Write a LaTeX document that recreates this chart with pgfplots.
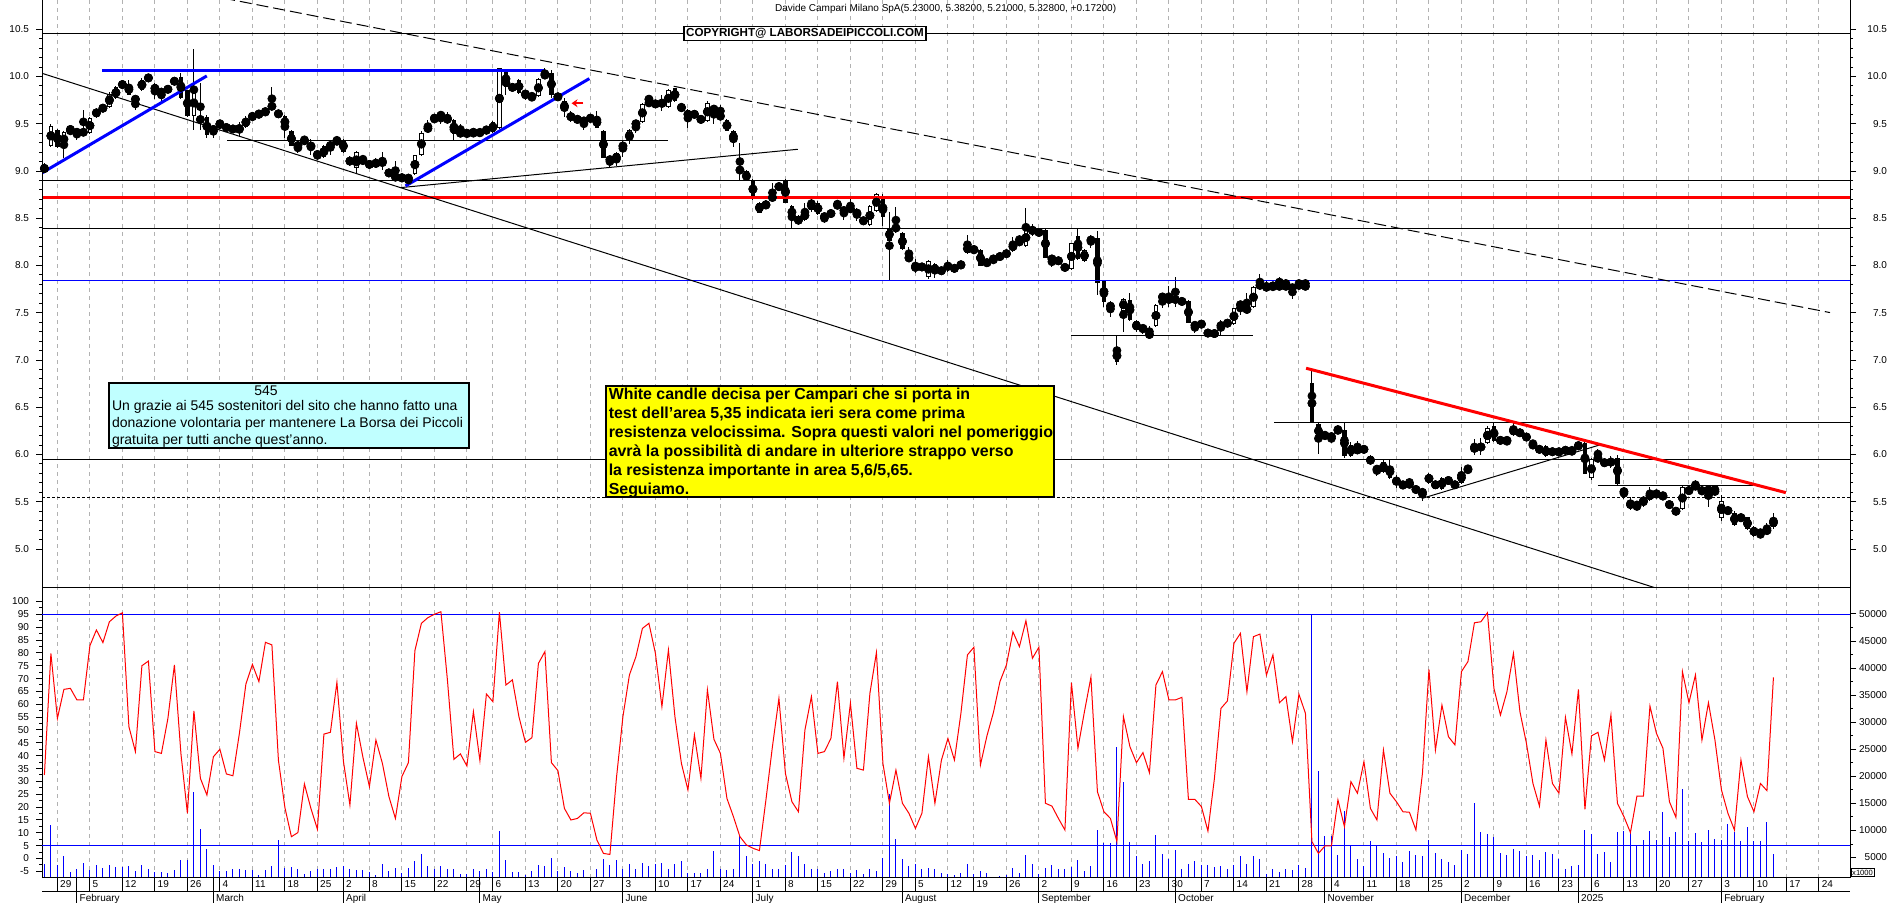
\documentclass[border=0pt]{standalone}
\usepackage{pgfplots}
\pgfplotsset{compat=1.18}
\usepackage{pgfplotstable}
\usepackage{fontspec}
\setmainfont{Liberation Sans}
\usetikzlibrary{arrows.meta}

\definecolor{gridgray}{RGB}{178,178,178}
\definecolor{notecyan}{RGB}{192,255,255}
\definecolor{noteyellow}{RGB}{255,255,0}

% daily candles, x = trading day (0 = 29 Jan 2024)
\pgfplotstableread{
d O H L C
-2 9.02 9.08 8.98 9.03
-1 9.265 9.50 9.25 9.477
0 9.434 9.44 9.24 9.258
1 9.258 9.42 9.135 9.417
2 9.44 9.47 9.38 9.44
3 9.41 9.45 9.33 9.41
4 9.42 9.65 9.39 9.40
5 9.40 9.57 9.39 9.56
6 9.57 9.67 9.56 9.66
7 9.66 9.70 9.63 9.67
8 9.68 9.84 9.67 9.815
9 9.77 9.90 9.76 9.886
10 9.88 9.96 9.87 9.95
11 9.92 9.96 9.80 9.805
12 9.76 9.77 9.65 9.76
13 9.86 9.98 9.85 9.96
14 9.98 10.02 9.95 9.99
15 9.92 9.93 9.76 9.83
16 9.83 9.88 9.73 9.84
17 9.85 9.89 9.84 9.88
18 9.92 9.99 9.91 9.98
19 9.999 10.04 9.76 9.77
20 9.86 9.86 9.57 9.58
21 9.58 10.29 9.43 9.86
22 9.57 9.93 9.43 9.52
23 9.57 9.59 9.35 9.38
24 9.40 9.49 9.35 9.48
25 9.50 9.52 9.46 9.50
26 9.49 9.50 9.42 9.43
27 9.46 9.48 9.41 9.43
28 9.42 9.52 9.36 9.48
29 9.47 9.58 9.46 9.56
30 9.56 9.61 9.55 9.59
31 9.62 9.64 9.57 9.58
32 9.59 9.68 9.58 9.66
33 9.72 9.89 9.64 9.65
34 9.64 9.65 9.56 9.57
35 9.58 9.59 9.35 9.46
36 9.42 9.43 9.26 9.265
37 9.27 9.30 9.19 9.27
38 9.32 9.37 9.29 9.32
39 9.31 9.34 9.17 9.22
40 9.20 9.21 9.12 9.15
41 9.15 9.27 9.14 9.26
42 9.27 9.33 9.17 9.27
43 9.30 9.36 9.29 9.33
44 9.33 9.34 9.19 9.20
45 9.15 9.16 9.05 9.06
46 9.03 9.21 8.98 9.205
47 9.11 9.17 9.08 9.11
48 9.09 9.10 9.04 9.05
49 9.05 9.14 9.03 9.11
50 9.12 9.20 9.01 9.06
51 8.99 9.00 8.96 8.97
52 8.96 9.11 8.90 8.91
53 8.91 8.96 8.89 8.95
54 8.89 8.97 8.84 8.96
55 8.97 9.17 8.96 9.17
56 9.17 9.42 9.16 9.40
57 9.41 9.54 9.40 9.49
58 9.56 9.58 9.52 9.56
59 9.59 9.62 9.50 9.59
60 9.59 9.62 9.50 9.505
61 9.54 9.55 9.33 9.39
62 9.40 9.50 9.38 9.40
63 9.40 9.42 9.37 9.40
64 9.39 9.44 9.36 9.43
65 9.43 9.45 9.37 9.38
66 9.42 9.46 9.40 9.45
67 9.52 9.53 9.40 9.41
68 9.45 10.09 9.44 10.09
69 10.06 10.07 9.80 9.89
70 9.86 9.93 9.84 9.91
71 9.96 9.97 9.82 9.83
72 9.85 9.86 9.75 9.78
73 9.79 9.81 9.75 9.79
74 9.79 9.98 9.78 9.97
75 10.00 10.09 9.97 10.03
76 10.04 10.07 9.77 9.80
77 9.80 9.81 9.76 9.77
78 9.745 9.77 9.57 9.63
79 9.61 9.63 9.52 9.54
80 9.54 9.57 9.52 9.555
81 9.50 9.57 9.43 9.56
82 9.56 9.57 9.54 9.56
83 9.58 9.63 9.45 9.45
84 9.42 9.43 9.14 9.14
85 9.15 9.16 9.04 9.09
86 9.10 9.20 9.05 9.19
87 9.25 9.33 9.15 9.28
88 9.32 9.44 9.29 9.43
89 9.50 9.53 9.40 9.50
90 9.52 9.72 9.51 9.71
91 9.76 9.76 9.68 9.76
92 9.68 9.75 9.67 9.74
93 9.75 9.80 9.64 9.68
94 9.68 9.87 9.67 9.86
95 9.875 9.88 9.73 9.745
96 9.71 9.72 9.63 9.63
97 9.65 9.66 9.46 9.55
98 9.56 9.65 9.55 9.64
99 9.575 9.58 9.51 9.52
100 9.53 9.74 9.52 9.72
101 9.69 9.70 9.50 9.62
102 9.58 9.70 9.57 9.58
103 9.54 9.55 9.42 9.42
104 9.42 9.43 9.25 9.31
105 9.04 9.30 8.90 8.98
106 9.00 9.01 8.89 8.89
107 8.91 8.92 8.69 8.71
108 8.66 8.67 8.56 8.56
109 8.62 8.69 8.60 8.66
110 8.69 8.87 8.67 8.75
111 8.81 8.87 8.80 8.86
112 8.89 8.92 8.66 8.66
113 8.63 8.64 8.39 8.50
114 8.52 8.53 8.43 8.44
115 8.48 8.66 8.47 8.58
116 8.59 8.74 8.57 8.675
117 8.665 8.68 8.53 8.54
118 8.49 8.55 8.45 8.545
119 8.53 8.58 8.52 8.57
120 8.615 8.69 8.61 8.66
121 8.615 8.63 8.48 8.55
122 8.57 8.70 8.56 8.63
123 8.60 8.61 8.47 8.51
124 8.445 8.51 8.44 8.50
125 8.43 8.64 8.42 8.63
126 8.58 8.77 8.57 8.76
127 8.71 8.76 8.42 8.51
128 8.40 8.57 7.85 8.26
129 8.445 8.62 8.34 8.35
130 8.34 8.35 8.16 8.17
131 8.06 8.20 8.05 8.10
132 7.98 8.07 7.92 7.98
133 8.00 8.01 7.96 7.97
134 7.88 8.06 7.86 8.05
135 8.02 8.03 7.87 7.91
136 7.93 7.97 7.92 7.96
137 7.99 8.06 7.93 7.99
138 7.99 8.00 7.94 7.95
139 7.99 8.04 7.98 8.02
140 8.225 8.32 8.12 8.13
141 8.17 8.20 8.13 8.17
142 8.16 8.17 7.99 8.00
143 8.00 8.07 7.99 8.06
144 8.07 8.09 8.03 8.07
145 8.07 8.13 8.06 8.12
146 8.10 8.16 8.09 8.15
147 8.15 8.30 8.14 8.25
148 8.25 8.31 8.24 8.25
149 8.21 8.61 8.20 8.38
150 8.38 8.44 8.31 8.36
151 8.32 8.39 8.31 8.38
152 8.38 8.39 8.08 8.08
153 8.06 8.10 7.98 8.08
154 8.08 8.09 8.01 8.02
155 8.01 8.02 7.94 7.95
156 7.96 8.24 7.95 8.235
157 8.31 8.40 8.06 8.07
158 8.05 8.17 8.04 8.16
159 8.27 8.32 8.19 8.27
160 8.29 8.36 7.69 7.81
161 7.84 7.85 7.56 7.61
162 7.59 7.62 7.46 7.55
163 7.11 7.25 6.95 6.98
164 7.52 7.66 7.30 7.65
165 7.64 7.71 7.41 7.42
166 7.41 7.42 7.30 7.32
167 7.37 7.38 7.28 7.30
168 7.27 7.36 7.24 7.27
169 7.36 7.59 7.35 7.58
170 7.655 7.69 7.55 7.68
171 7.67 7.78 7.56 7.61
172 7.67 7.88 7.56 7.61
173 7.62 7.64 7.60 7.62
174 7.62 7.63 7.39 7.39
175 7.345 7.40 7.29 7.39
176 7.40 7.42 7.34 7.36
177 7.32 7.33 7.24 7.25
178 7.25 7.32 7.24 7.31
179 7.33 7.42 7.27 7.40
180 7.36 7.43 7.35 7.42
181 7.38 7.55 7.37 7.55
182 7.56 7.62 7.48 7.61
183 7.51 7.71 7.50 7.56
184 7.56 7.78 7.55 7.77
185 7.79 7.91 7.74 7.79
186 7.79 7.84 7.72 7.75
187 7.76 7.82 7.73 7.81
188 7.78 7.88 7.77 7.78
189 7.78 7.86 7.76 7.78
190 7.78 7.79 7.65 7.75
191 7.79 7.85 7.77 7.79
192 7.78 7.84 7.78 7.78
193 6.754 6.91 6.33 6.331
194 6.32 6.33 6.01 6.18
195 6.20 6.24 6.17 6.20
196 6.18 6.22 6.12 6.20
197 6.225 6.31 6.22 6.288
198 6.26 6.34 5.96 5.98
199 5.98 6.13 5.97 6.10
200 6.066 6.14 6.02 6.03
201 6.04 6.09 6.02 6.07
202 5.98 5.99 5.89 5.90
203 5.88 5.89 5.77 5.81
204 5.81 5.94 5.80 5.92
205 5.88 5.94 5.74 5.756
206 5.74 5.78 5.65 5.70
207 5.68 5.71 5.64 5.68
208 5.685 5.75 5.66 5.685
209 5.66 5.67 5.59 5.60
210 5.60 5.65 5.51 5.60
211 5.70 5.80 5.69 5.795
212 5.72 5.73 5.63 5.64
213 5.63 5.76 5.62 5.756
214 5.75 5.76 5.69 5.70
215 5.68 5.70 5.66 5.68
216 5.70 5.87 5.69 5.81
217 5.84 5.87 5.83 5.84
218 6.03 6.16 6.00 6.10
219 6.05 6.17 5.99 6.11
220 6.12 6.30 6.11 6.28
221 6.30 6.33 6.13 6.14
222 6.17 6.18 6.12 6.13
223 6.13 6.18 6.10 6.17
224 6.21 6.33 6.20 6.29
225 6.25 6.26 6.20 6.21
226 6.20 6.21 6.16 6.17
227 6.10 6.14 6.09 6.10
228 6.08 6.09 6.02 6.03
229 5.98 6.10 5.97 6.09
230 6.03 6.06 6.00 6.03
231 6.03 6.06 5.99 6.03
232 6.03 6.07 6.02 6.06
233 6.02 6.08 6.01 6.05
234 6.08 6.12 6.06 6.11
235 6.12 6.14 5.79 5.79
236 5.75 5.96 5.73 5.95
237 5.96 6.06 5.95 5.96
238 5.925 5.95 5.88 5.90
239 5.88 5.98 5.86 5.96
240 5.96 5.99 5.68 5.69
241 5.645 5.65 5.53 5.57
242 5.51 5.55 5.41 5.43
243 5.45 5.48 5.42 5.48
244 5.54 5.56 5.44 5.48
245 5.52 5.66 5.51 5.61
246 5.60 5.61 5.55 5.57
247 5.56 5.60 5.53 5.56
248 5.50 5.51 5.43 5.44
249 5.43 5.44 5.36 5.37
250 5.42 5.67 5.41 5.66
251 5.625 5.65 5.59 5.61
252 5.64 5.73 5.63 5.69
253 5.64 5.66 5.58 5.59
254 5.57 5.68 5.45 5.68
255 5.63 5.68 5.58 5.59
256 5.325 5.57 5.30 5.51
257 5.43 5.44 5.37 5.385
258 5.38 5.40 5.24 5.255
259 5.315 5.36 5.30 5.35
260 5.336 5.34 5.20 5.21
261 5.237 5.24 5.13 5.138
262 5.16 5.19 5.12 5.184
263 5.23 5.28 5.15 5.16
264 5.23 5.382 5.21 5.328
}\candles

% oscillator (left scale) and volume (right scale, x1000)
\pgfplotstableread{
d osc vol
-2 32.5 3890
-1 79.8 10980
0 54.5 3700
1 65.8 5250
2 66.2 2350
3 61.7 2970
4 61.7 4070
5 82.8 2780
6 88.9 3700
7 84.0 3090
8 92.1 3580
9 94.3 3270
10 95.6 3270
11 51.3 3400
12 41.6 2470
13 75.0 3580
14 76.8 2840
15 41.6 2350
16 40.9 2350
17 54.5 2160
18 75.3 2660
19 40.9 4630
20 17.6 4630
21 57.4 17140
22 31.2 10360
23 24.7 6660
24 39.6 3580
25 42.5 2470
26 32.9 2470
27 32.2 2840
28 48.7 2840
29 67.9 2660
30 75.5 2660
31 68.8 1860
32 84.1 2660
33 83.1 3400
34 38.3 8200
35 19.8 3150
36 8.5 3270
37 10.1 2840
38 29.0 1920
39 19.5 2470
40 11.4 2970
41 48.4 2970
42 49.1 2970
43 68.5 3270
44 37.9 3400
45 20.8 2970
46 52.6 2660
47 39.4 2660
48 28.0 2350
49 46.1 1860
50 37.0 3890
51 24.1 2470
52 15.6 3150
53 31.9 2160
54 37.3 3150
55 80.9 4320
56 91.5 5740
57 93.7 3400
58 95.0 2840
59 96.0 3400
60 69.5 2840
61 38.6 2840
62 40.7 2040
63 36.0 2040
64 57.1 2840
65 38.1 2470
66 64.0 2840
67 61.0 2350
68 95.8 9930
69 67.5 4510
70 69.5 2350
71 55.2 2350
72 45.2 1730
73 47.0 2470
74 75.9 3700
75 80.5 3400
76 37.3 5000
77 34.2 2470
78 19.5 3270
79 15.0 2530
80 15.6 2160
81 17.8 2660
82 17.6 1430
83 7.2 2840
84 2.0 4820
85 1.6 3580
86 31.2 4510
87 55.2 2840
88 71.4 3890
89 78.5 2970
90 89.5 4070
91 91.5 3400
92 79.8 3890
93 59.1 4070
94 81.1 2970
95 55.2 3890
96 37.0 4320
97 26.7 2160
98 48.1 2220
99 31.2 2160
100 65.6 2970
101 46.4 6170
102 40.9 2970
103 23.4 2660
104 16.3 2970
105 8.5 8950
106 5.3 5250
107 4.0 3890
108 3.1 4320
109 22.8 3890
110 43.5 2840
111 62.3 2840
112 33.1 3700
113 22.1 6050
114 18.2 5250
115 50.0 3890
116 63.0 2970
117 40.9 2970
118 41.6 2220
119 46.7 2470
120 68.8 2970
121 39.0 2840
122 60.4 2220
123 35.1 2660
124 34.4 1920
125 64.3 2970
126 80.1 2470
127 37.0 5000
128 21.5 16830
129 34.4 8510
130 21.5 4820
131 17.6 3400
132 11.7 3890
133 17.6 2840
134 39.6 3150
135 21.5 2840
136 38.3 2220
137 46.7 2040
138 38.3 1730
139 56.5 2220
140 79.2 3890
141 82.2 2040
142 36.4 2470
143 47.7 2220
144 56.8 1400
145 68.8 1550
146 75.3 1730
147 88.2 3150
148 82.4 2220
149 92.5 5430
150 77.9 3770
151 82.2 2040
152 21.5 3150
153 20.4 3700
154 15.6 2840
155 11.1 2840
156 68.4 3270
157 42.9 4510
158 57.1 2470
159 70.5 3400
160 26.0 10180
161 18.2 7720
162 15.6 7720
163 6.6 25470
164 55.2 19000
165 43.5 7900
166 37.3 5250
167 41.2 3770
168 33.4 4320
169 67.5 9130
170 72.7 5740
171 61.7 4820
172 61.7 6360
173 62.7 2970
174 23.0 3890
175 23.0 4320
176 20.2 3700
177 10.7 3700
178 31.2 3270
179 58.4 3460
180 61.3 2970
181 83.7 3700
182 87.6 5250
183 64.9 3770
184 86.3 5250
185 87.3 4816
186 71.4 2042
187 79.2 2967
188 60.6 2350
189 63.0 2967
190 45.5 2658
191 63.9 3583
192 56.5 3152
193 6.6 49936
194 2.0 20965
195 4.9 8948
196 4.9 8948
197 22.8 5432
198 12.4 13568
199 29.9 7407
200 25.4 4816
201 37.7 3460
202 19.5 8023
203 15.0 7407
204 42.2 5927
205 25.4 4941
206 22.1 5249
207 18.2 4201
208 18.0 6173
209 11.1 5557
210 33.1 5249
211 73.6 8206
212 42.2 5927
213 59.7 4694
214 47.4 4201
215 44.2 3583
216 72.7 6357
217 76.6 5617
218 91.7 15109
219 92.1 9746
220 95.6 9314
221 66.2 8820
222 55.8 5865
223 64.9 5432
224 79.8 6665
225 57.1 6173
226 44.8 5249
227 29.2 5432
228 20.4 4509
229 46.1 6050
230 29.2 5617
231 25.4 4816
232 54.9 2844
233 40.7 3398
234 65.8 3583
235 19.1 10055
236 47.7 9314
237 49.1 5617
238 38.3 6050
239 55.8 4201
240 21.5 9746
241 16.3 9870
242 10.1 9746
243 24.3 7158
244 24.3 8206
245 59.3 9931
246 48.7 8206
247 42.9 13445
248 22.1 8820
249 16.0 9746
250 72.7 17637
251 60.6 8083
252 71.4 9562
253 46.1 7898
254 60.6 10055
255 46.1 8391
256 26.7 8206
257 17.6 11286
258 11.1 9746
259 38.3 8083
260 24.1 10670
261 18.2 8083
262 29.2 8083
263 26.4 11594
264 70.5 5617
}\oscvol

\pgfplotsset{
  panel/.style={
    scale only axis, width=904pt, anchor=south west,
    xmin=-2.37, xmax=275.78,
    axis line style={line width=0.5pt},
    tick style={black, line width=0.5pt},
    tick align=outside, major tick length=3pt, minor tick length=1.5pt,
    tick label style={font=\fontsize{5}{6}\selectfont},
    /pgf/number format/assume math mode=true,
    xtick={0,5,10,15,20,25,30,35,40,44,48,53,58,63,67,72,77,82,87,92,97,102,107,112,117,122,127,132,137,141,146,151,156,161,166,171,176,181,186,191,196,201,206,211,216,221,226,231,236,241,246,251,256,261,266,271},
    xtick style={draw=none},
    major grid style={gridgray, dash pattern=on 2pt off 2pt, line width=0.5pt},
  },
  price/.style={
    height=295pt, at={(21pt,157.5pt)},
    ymin=4.5878, ymax=10.831,
    ytick={5,5.5,6,6.5,7,7.5,8,8.5,9,9.5,10,10.5}, minor y tick num=4,
    /pgf/number format/fixed, /pgf/number format/fixed zerofill, /pgf/number format/precision=1,
  },
  lowpanel/.style={height=145pt, at={(21pt,12.5pt)}},
  candle/.style={only marks, mark=none, error bars/.cd, y dir=both, y explicit,
    error mark=none, error bar style={#1, line cap=butt}},
}

\begin{document}
\begin{tikzpicture}
\path[use as bounding box] (0,0) rectangle (945pt,451.5pt);

% ---------- price panel ----------
\begin{axis}[panel, price, xmajorgrids, xticklabels={}, ytick pos=left, yticklabel pos=left]
  % candles: wick, body outline, white body
  \addplot[candle={draw=black, line width=0.5pt}]
    table[x=d, y expr={0.5*(\thisrow{H}+\thisrow{L})}, y error expr={0.5*(\thisrow{H}-\thisrow{L})}] {\candles};
  \addplot[candle={draw=black, line width=2.1pt}]
    table[x=d, y expr={0.5*(\thisrow{O}+\thisrow{C})}, y error expr={max(0.5*abs(\thisrow{C}-\thisrow{O}),0.0055)}] {\candles};
  \addplot[candle={draw=white, line width=1.1pt}]
    table[x=d, y expr={0.5*(\thisrow{O}+\thisrow{C})}, y error expr={max(0.5*(\thisrow{C}-\thisrow{O})-0.0106,0)}] {\candles};

  % horizontal levels
  \addplot[black, line width=0.5pt] coordinates {(-2.37,10.457) (275.78,10.457)};
  \addplot[black, line width=0.5pt] coordinates {(-2.37,8.895) (275.78,8.895)};
  \addplot[red, line width=1.5pt] coordinates {(-2.37,8.718) (275.78,8.718)};
  \addplot[black, line width=0.5pt] coordinates {(-2.37,8.387) (275.78,8.387)};
  \addplot[blue, line width=0.5pt] coordinates {(-2.37,7.844) (275.78,7.844)};
  \addplot[black, line width=0.5pt] coordinates {(-2.37,5.95) (275.78,5.95)};
  \addplot[black, line width=0.5pt, dash pattern=on 1.5pt off 1pt] coordinates {(-2.37,5.548) (275.78,5.548)};
  \addplot[black, line width=0.5pt] coordinates {(187.2,6.337) (275.78,6.337)};
  \addplot[black, line width=0.5pt] coordinates {(26.1,9.327) (94.0,9.327)};
  \addplot[black, line width=0.5pt] coordinates {(156.0,7.255) (183.9,7.255)};
  \addplot[black, line width=0.5pt] coordinates {(237.0,5.668) (260.8,5.668)};
  % trend lines
  \addplot[black, line width=0.5pt] coordinates {(-2.37,10.034) (245.8,4.59)};
  \addplot[black, line width=0.5pt, dash pattern=on 6pt off 2.5pt] coordinates {(25.5,10.83) (272.7,7.502)};
  \addplot[black, line width=0.5pt] coordinates {(52.75,8.824) (113.9,9.23)};
  \addplot[black, line width=0.5pt] coordinates {(210.0,5.537) (237.2,6.10)};
  \addplot[blue, line width=1.5pt] coordinates {(-2.37,8.98) (22.98,10.006)};
  \addplot[blue, line width=1.5pt] coordinates {(6.9,10.062) (74.9,10.062)};
  \addplot[blue, line width=1.5pt] coordinates {(53.55,8.842) (81.84,9.978)};
  \addplot[red, line width=1.5pt] coordinates {(192.1,6.913) (265.9,5.597)};
  \draw[red, line width=1pt, -{Stealth[length=3pt,width=4pt]}] (axis cs:80.9,9.717) -- (axis cs:79.1,9.717);
\end{axis}

% right-hand price labels
\begin{axis}[panel, price, xtick=\empty, ytick pos=right, yticklabel pos=right,
  yticklabel style={anchor=east, xshift=19pt}]
\end{axis}

% ---------- volume (right scale) ----------
\begin{axis}[panel, lowpanel, xmajorgrids, xticklabels={},
  ymin=1220, ymax=54804, scaled y ticks=false,
  ytick={5000,10000,15000,20000,25000,30000,35000,40000,45000,50000}, minor y tick num=1,
  ytick pos=right, yticklabel pos=right,
  /pgf/number format/1000 sep={},
  yticklabel style={anchor=east, xshift=19pt}]
  \addplot[blue, ycomb, line width=0.5pt, mark=none] table[x=d, y=vol] {\oscvol};
\end{axis}

% ---------- oscillator (left scale) and date labels ----------
\begin{axis}[panel, lowpanel,
  ymin=-7.563, ymax=105.23,
  ytick={-5,0,5,10,15,20,25,30,35,40,45,50,55,60,65,70,75,80,85,90,95,100}, minor y tick num=1,
  ytick pos=left, yticklabel pos=left,
  xtick pos=bottom,
  xticklabels={29,5,12,19,26,4,11,18,25,2,8,15,22,29,6,13,20,27,3,10,17,24,1,8,15,22,29,5,12,19,26,2,9,16,23,30,7,14,21,28,4,11,18,25,2,9,16,23,6,13,20,27,3,10,17,24},
  xticklabel style={anchor=north west, inner sep=0pt, xshift=1.2pt, yshift=2pt},
  extra x ticks={3,24,44,65,87,107,130,151,172,195,216,234,256},
  extra x tick labels={February,March,April,May,June,July,August,September,October,November,December,2025,February},
  extra x tick style={grid=none, tick label style={yshift=-7pt}}]
  \addplot[blue, line width=0.5pt] coordinates {(-2.37,95) (275.78,95)};
  \addplot[blue, line width=0.5pt] coordinates {(-2.37,5) (275.78,5)};
  \addplot[red, line width=0.5pt, mark=none] table[x=d, y=osc] {\oscvol};
\end{axis}

% date strip separators
\foreach \d in {0,5,10,15,20,25,30,35,40,44,48,53,58,63,67,72,77,82,87,92,97,102,107,112,117,122,127,132,137,141,146,151,156,161,166,171,176,181,186,191,196,201,206,211,216,221,226,231,236,241,246,251,256,261,266,271}
  \draw[line width=0.5pt] ({(21+(\d+2.37)*3.25)*1pt},12.5pt) -- ++(0,-7pt);
\foreach \d in {3,24,44,65,87,107,130,151,172,195,216,234,256}
  \draw[line width=0.5pt] ({(21+(\d+2.37)*3.25)*1pt},12.5pt) -- ++(0,-12.5pt);
\draw[line width=0.5pt] (21pt,5.5pt) -- (925pt,5.5pt);
\node[draw, line width=0.4pt, inner sep=0.6pt, font=\fontsize{3.8}{4}\selectfont, anchor=south west] at (925.3pt,13pt) {x1000};

% title and notes
\node[font=\fontsize{5}{6}\selectfont] at (472.8pt,447pt) {Davide Campari Milano SpA(5.23000, 5.38200, 5.21000, 5.32800, +0.17200)};
\node[draw, fill=white, line width=0.6pt, inner sep=0.6pt, minimum width=121pt, minimum height=7pt,
  font=\bfseries\fontsize{5.8}{6}\selectfont] at (402.5pt,434.65pt) {COPYRIGHT@ LABORSADEIPICCOLI.COM};

\filldraw[fill=notecyan, draw=black, line width=1pt] (54.5pt,227.35pt) rectangle (234.5pt,260.15pt);
\begin{scope}[every node/.style={font=\fontsize{7}{8}\selectfont, inner sep=0pt}]
  \node at (133pt,256pt) {545};
  \node[anchor=west] at (55.8pt,248pt) {Un grazie ai 545 sostenitori del sito che hanno fatto una};
  \node[anchor=west] at (55.8pt,239.5pt) {donazione volontaria per mantenere La Borsa dei Piccoli};
  \node[anchor=west] at (55.8pt,231pt) {gratuita per tutti anche quest'anno.};
\end{scope}

\filldraw[fill=noteyellow, draw=black, line width=1pt] (302.8pt,202.85pt) rectangle (526.85pt,258.65pt);
\begin{scope}[every node/.style={font=\bfseries\fontsize{7.95}{9}\selectfont, inner sep=0pt, anchor=west}]
  \node at (304.2pt,254pt) {White candle decisa per Campari che si porta in};
  \node at (304.2pt,244.5pt) {test dell'area 5,35 indicata ieri sera come prima};
  \node at (304.2pt,235pt) {resistenza velocissima. Sopra questi valori nel pomeriggio};
  \node at (304.2pt,225.5pt) {avrà la possibilità di andare in ulteriore strappo verso};
  \node at (304.2pt,216pt) {la resistenza importante in area 5,6/5,65.};
  \node at (304.2pt,206.5pt) {Seguiamo.};
\end{scope}
\end{tikzpicture}
\end{document}
